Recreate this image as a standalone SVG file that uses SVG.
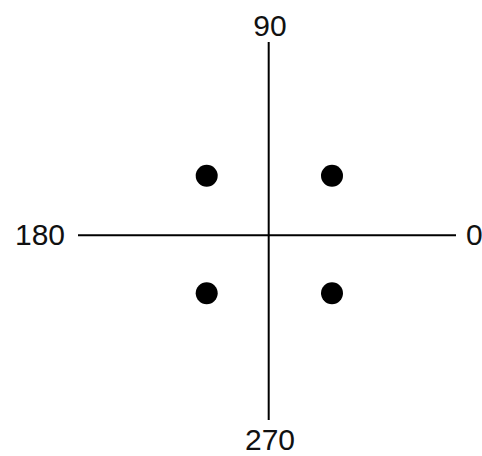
<svg xmlns="http://www.w3.org/2000/svg" width="482" height="456" viewBox="0 0 482 456">
<style>
.axis{stroke:#000;stroke-width:2;fill:none}
.dot{fill:#000}
.lbl{font-family:"Liberation Sans",Arial,sans-serif;font-size:30px;fill:#111}
</style>
<rect width="482" height="456" fill="#fff"/>
<g id="connectors">
<line class="axis" x1="268.7" y1="42" x2="268.7" y2="420"/>
<line class="axis" x1="78" y1="235.3" x2="456" y2="235.3"/>
</g>
<g id="dot-q2"><circle class="dot" cx="206.7" cy="175.7" r="11"/></g>
<g id="dot-q1"><circle class="dot" cx="332" cy="175.7" r="11"/></g>
<g id="dot-q3"><circle class="dot" cx="206.7" cy="293.3" r="11"/></g>
<g id="dot-q4"><circle class="dot" cx="332" cy="293.3" r="11"/></g>
<g id="label-90"><text class="lbl" x="270" y="36" text-anchor="middle">90</text></g>
<g id="label-180"><text class="lbl" x="15" y="245">180</text></g>
<g id="label-0"><text class="lbl" x="466" y="245">0</text></g>
<g id="label-270"><text class="lbl" x="270" y="450" text-anchor="middle">270</text></g>
</svg>
